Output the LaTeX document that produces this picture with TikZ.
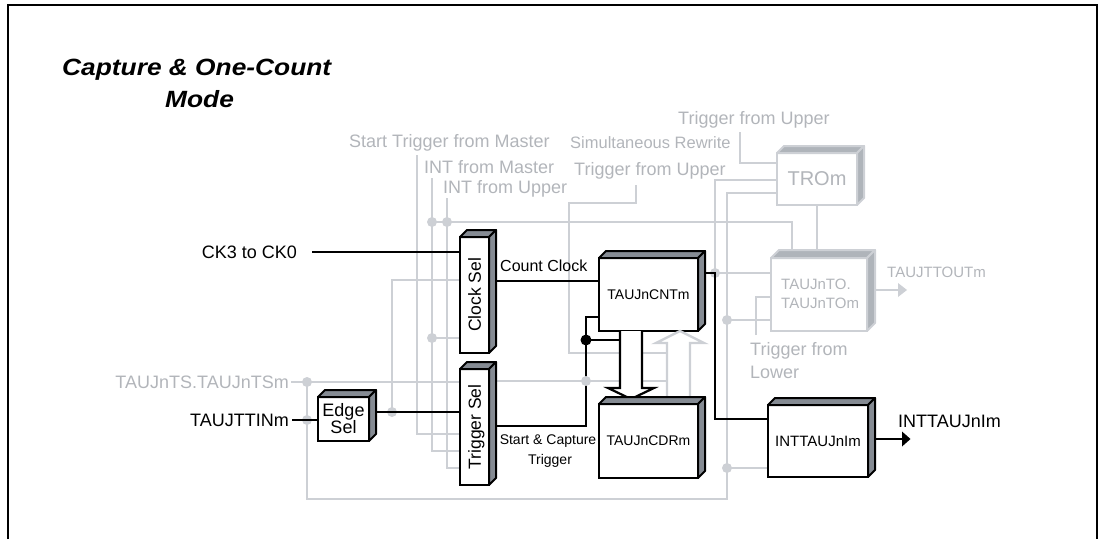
\documentclass[tikz,border=0pt]{standalone}
\usepackage{fontspec}
\setmainfont{Liberation Sans}
\definecolor{lg}{RGB}{205,208,213}
\definecolor{gt}{RGB}{178,181,186}
\definecolor{dk}{RGB}{133,139,147}
\definecolor{gf}{RGB}{175,180,186}
\newcommand{\fsz}[1]{\fontsize{#1}{#1}\selectfont}
\pgfdeclarelayer{glayer}
\pgfdeclarelayer{blayer}
\pgfsetlayers{glayer,blayer,main}
% #1 name, #2 cx, #3 cy, #4 w, #5 h, #6 depth, #7 kind (b/g), #8 node options, #9 text
\newcommand{\tdbox}[9]{%
  \node[front#7, minimum width=#4pt, minimum height=#5pt, #8] (#1) at (#2,#3) {#9};
  \draw[face#7] (#1.north west) -- ++(#6,-#6) -- ([shift={(#6,-#6)}]#1.north east) -- (#1.north east) -- cycle;
  \draw[face#7] (#1.north east) -- ([shift={(#6,-#6)}]#1.north east) -- ([shift={(#6,-#6)}]#1.south east) -- (#1.south east) -- cycle;
  \draw[edge#7] (#1.north west) rectangle (#1.south east);
}
\begin{document}
\begin{tikzpicture}[x=1pt,y=-1pt,
  frontb/.style={draw=black, line width=2.6pt, fill=white, inner sep=0, outer sep=0, text=black, align=center},
  faceb/.style={draw=black, line width=2pt, fill=dk, line join=round},
  edgeb/.style={draw=black, line width=2.6pt},
  frontg/.style={draw=lg, line width=2.6pt, fill=white, inner sep=0, outer sep=0, text=gt, align=center},
  faceg/.style={draw=lg, line width=2pt, fill=gf, line join=round},
  edgeg/.style={draw=lg, line width=2.6pt},
  gl/.style={draw=lg, line width=2.6pt},
  bl/.style={draw=black, line width=2pt},
  gdot/.style={circle, fill=lg, inner sep=0, minimum size=10pt},
  bdot/.style={circle, fill=black, inner sep=0, minimum size=11pt},
  gtxt/.style={text=gt, font=\fsz{18}, inner sep=0},
  btxt/.style={text=black, font=\fsz{18}, inner sep=0},
  rtxt/.style={rotate=90, font=\fsz{17.5}, inner sep=0, text height=12.5pt, text depth=0pt}
]
\useasboundingbox (0,0) rectangle (1103,539);
\draw[line width=2.4pt] (8,539) -- (8,5) -- (1097,5) -- (1097,539);

% title
\node[anchor=base west, inner sep=0, font=\fsz{23.5}\bfseries\itshape] (title1) at (62,75) {\scalebox{1.12}[1]{Capture \& One-Count}};
\node[anchor=base west, inner sep=0, font=\fsz{23.5}\bfseries\itshape] (title2) at (165,107) {\scalebox{1.12}[1]{Mode}};

% gray labels
\node[gtxt, anchor=base west] (lstm) at (349,147) {Start Trigger from Master};
\node[gtxt, anchor=base west, font=\fsz{16.5}] (lsr) at (570,148) {Simultaneous Rewrite};
\node[gtxt, anchor=base west] (limm) at (424,173) {INT from Master};
\node[gtxt, anchor=base west] (ltfu) at (574,175) {Trigger from Upper};
\node[gtxt, anchor=base west] (liu) at (443,193) {INT from Upper};
\node[gtxt, anchor=base west] (ltfu2) at (678,124) {Trigger from Upper};
\node[gtxt, anchor=base east] (lts) at (289,388.5) {TAUJnTS.TAUJnTSm};
\node[gtxt, anchor=base west, font=\fsz{15}] (lto) at (887,277) {TAUJTTOUTm};
\node[gtxt, anchor=base west] (ltfl1) at (750,355) {Trigger from};
\node[gtxt, anchor=base west] (ltfl2) at (750,378) {Lower};

% black labels
\node[btxt, anchor=base east] (lck) at (297,258) {CK3 to CK0};
\node[btxt, anchor=base east] (ltin) at (289,426.5) {TAUJTTINm};
\node[btxt, anchor=base west, font=\fsz{16}] (lcc) at (500,271) {Count Clock};
\node[btxt, anchor=base, font=\fsz{14}] (lsc1) at (548,444) {Start \& Capture};
\node[btxt, anchor=base, font=\fsz{14}] (lsc2) at (550,464) {Trigger};
\node[btxt, anchor=base west] (lout) at (898,427) {INTTAUJnIm};

% gray boxes
\tdbox{tromb}{817}{179}{80}{52}{7}{g}{font=\fsz{20}}{TROm}
\tdbox{tobox}{819}{294.5}{96}{73}{8}{g}{}{}
\node[gtxt, anchor=base west, font=\fsz{15}] (tot1) at (781,289) {TAUJnTO.};
\node[gtxt, anchor=base west, font=\fsz{15}] (tot2) at (781,308) {TAUJnTOm};

% black boxes
\tdbox{clocksel}{474.5}{295}{29}{116}{7}{b}{}{}
\tdbox{trigsel}{474.5}{427}{29}{116}{7}{b}{}{}
\tdbox{edgesel}{343.5}{419}{51}{44}{7}{b}{font=\fontsize{18}{17}\selectfont}{Edge\\Sel}
\tdbox{cntbox}{648.5}{294.5}{99}{73}{7}{b}{font=\fsz{14}}{TAUJnCNTm}
\tdbox{intbox}{818}{441}{100}{72}{7}{b}{font=\fsz{15}}{INTTAUJnIm}
\node[rtxt] (tclk) at (clocksel.center) {Clock Sel};
\node[rtxt] (ttrg) at (trigsel.center) {Trigger Sel};

% gray connectors
\begin{pgfonlayer}{glayer}
\draw[gl] (417,155) |- (trigsel.west |- 0,434);
\draw[gl] (432,178) |- (trigsel.west |- 0,451);
\draw[gl] (447,198) |- (trigsel.west |- 0,468);
\draw[gl] (432,222) -| (792,251);
\draw[gl] (432,338) -- (clocksel.west |- 0,338);
\draw[gl] (392,412) |- (clocksel.west |- 0,280);
\draw[gl] (lts.east |- 0,382) ++(2,0) -- (trigsel.west |- 0,382);
\draw[gl] (496,381) -- (667,381);
\draw[gl] (307,382) -- (307,499) -- (727,499) |- (tromb.west |- 0,193);
\draw[gl] (727,320) -- (tobox.west |- 0,320);
\draw[gl] (727,468) -- (intbox.west |- 0,468);
\draw[gl] (715,273) -- (tobox.west |- 0,273);
\draw[gl] (715,273) |- (tromb.west |- 0,180);
\draw[gl] (636,185) -- (636,203) -- (569,203) -- (569,353) -- (667,353);
\draw[gl] (740,132) |- (tromb.west |- 0,163);
\draw[gl] (tromb.south) -- (tromb.south |- 0,251);
\draw[gl] (756,335) |- (tobox.west |- 0,297);
\draw[gl] (875,290) -- (898,290);
\fill[lg] (898,283) -- (907,290) -- (898,297) -- cycle;
\foreach \p/\n in {{(432,222)}/d1,{(447,222)}/d2,{(432,338)}/d3,{(392,412)}/d4,{(307,382)}/d5,{(307,420)}/d6,{(715,273)}/d7,{(727,320)}/d8,{(727,468)}/d9}
  \node[gdot] (\n) at \p {};
\end{pgfonlayer}

% black connectors
\begin{pgfonlayer}{blayer}
\draw[bl] (lck.east |- 0,252) ++(15,0) -- (clocksel.west |- 0,252);
\draw[bl] (ltin.east |- 0,420) ++(3,0) -- (edgesel.west |- 0,420);
\draw[bl] (376,412) -- (trigsel.west |- 0,412);
\draw[bl] (496,281) -- (cntbox.west |- 0,281);
\draw[bl] (496,426) -- (586,426) |- (cntbox.west |- 0,317);
\draw[bl] (586,340) -- (620,340);
\draw[bl] (705,273) -- (715,273) |- (intbox.west |- 0,419);
\draw[bl] (875,439) -- (902,439);
\fill[black] (902,431.5) -- (910.5,439) -- (902,446.5) -- cycle;
\end{pgfonlayer}

% wide arrows
\draw[draw=lg, line width=2.4pt, fill=white, line join=miter] (667,399) -- (667,343) -- (656,343) -- (680,331) -- (704,343) -- (690,343) -- (690,399);
\draw[draw=black, line width=2.2pt, fill=white, line join=miter] (620,331) -- (620,388) -- (608,388) -- (631,399) -- (654,388) -- (642,388) -- (642,331);
\node[gdot] (d10) at (586,381) {};
\node[bdot] (d11) at (586,340) {};

\tdbox{cdrbox}{648.5}{441}{99}{74}{7}{b}{font=\fsz{14}}{TAUJnCDRm}
\end{tikzpicture}
\end{document}
